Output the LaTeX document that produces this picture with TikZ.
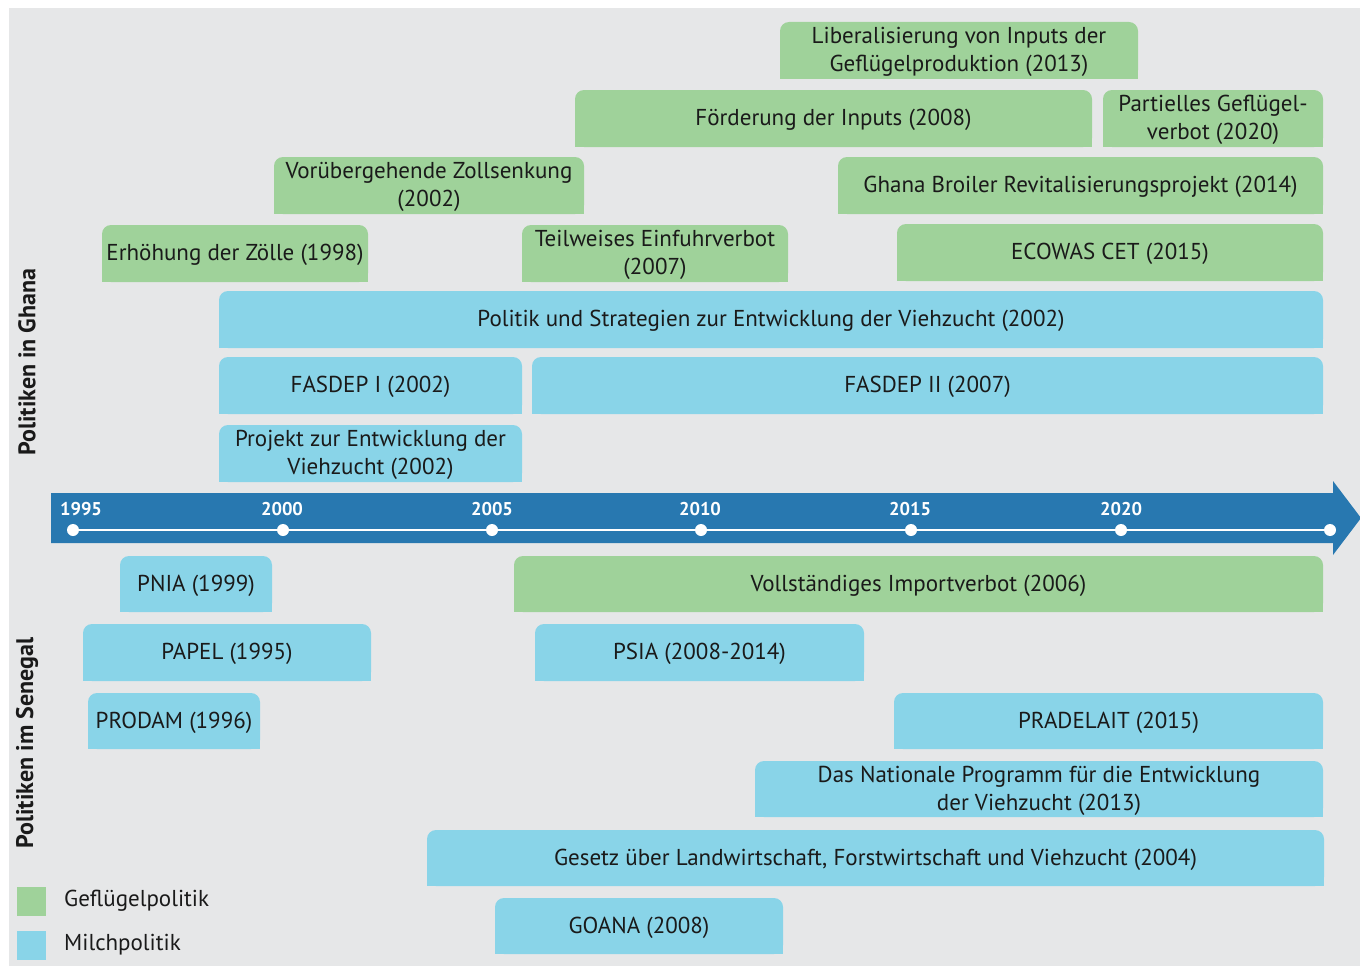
\documentclass[tikz,border=0pt]{standalone}
\usepackage{fontspec}
\setmainfont{PT Sans}
\definecolor{bgc}{HTML}{E6E7E8}
\definecolor{gr}{HTML}{9FD29A}
\definecolor{bl}{HTML}{89D4E8}
\definecolor{arr}{HTML}{2878B0}
\definecolor{ink}{HTML}{1A1A1A}
\tikzset{
  txt/.style={text=ink,font=\fontsize{23}{28}\selectfont,align=center,inner sep=0pt,yshift=-1.5pt},
  yr/.style={text=white,font=\bfseries\fontsize{18.5}{20}\selectfont,inner sep=0pt},
  side/.style={text=ink,font=\bfseries\fontsize{24}{28}\selectfont,rotate=90,inner sep=0pt},
  dot/.style={circle,fill=white,inner sep=0pt,minimum size=12pt},
  leg/.style={text=ink,font=\fontsize{23}{27}\selectfont,anchor=west,inner sep=0pt}
}
\newcommand\tbox[7]{%
  \fill[#6,rounded corners=9pt] (#2,-#3) rectangle (#4,-#5);
  \fill[#6] (#2,{-#3-15}) rectangle (#4,-#5);
  \node[txt] (#1) at ({(#2+#4)/2},{-(#3+#5)/2}) {#7};}
\begin{document}
\begin{tikzpicture}[x=1pt,y=1pt]
\useasboundingbox (0,0) rectangle (1360,-966);
\fill[white] (0,0) rectangle (1360,-966);
\fill[bgc] (9,-8) rectangle (1360,-966);
% Ghana
\tbox{lib}{780}{22}{1138}{79}{gr}{Liberalisierung von Inputs der\\Geflügelproduktion (2013)}
\tbox{foer}{575}{90}{1092}{147}{gr}{Förderung der Inputs (2008)}
\tbox{part}{1103}{90}{1323}{147}{gr}{Partielles Geflügel-\\verbot (2020)}
\tbox{zoll}{274}{157}{584}{214}{gr}{Vorübergehende Zollsenkung\\(2002)}
\tbox{broil}{838}{157}{1323}{214}{gr}{Ghana Broiler Revitalisierungsprojekt (2014)}
\tbox{erh}{102}{225}{368}{282}{gr}{Erhöhung der Zölle (1998)}
\tbox{teil}{522}{225}{788}{282}{gr}{Teilweises Einfuhrverbot\\(2007)}
\tbox{ecow}{897}{224}{1323}{281}{gr}{ECOWAS CET (2015)}
\tbox{pol}{219}{291}{1323}{348}{bl}{Politik und Strategien zur Entwicklung der Viehzucht (2002)}
\tbox{fas1}{219}{357}{522}{414}{bl}{FASDEP I (2002)}
\tbox{fas2}{532}{357}{1323}{414}{bl}{FASDEP II (2007)}
\tbox{proj}{219}{425}{522}{482}{bl}{Projekt zur Entwicklung der\\Viehzucht (2002)}
% timeline
\fill[arr] (51,-493) -- (1333,-493) -- (1333,-481) -- (1361,-518) -- (1333,-555) -- (1333,-543) -- (51,-543) -- cycle;
\node[dot] (d1) at (73,-530) {};
\node[dot] (d2) at (283,-530) {};
\node[dot] (d3) at (492,-530) {};
\node[dot] (d4) at (701,-530) {};
\node[dot] (d5) at (911,-530) {};
\node[dot] (d6) at (1121,-530) {};
\node[dot] (d7) at (1330,-530) {};
\draw[white,line width=2.5pt] (d1.center) -- (d7.center);
\node[yr] (y1) at (81,-509) {1995};
\node[yr] (y2) at (282,-509) {2000};
\node[yr] (y3) at (492,-509) {2005};
\node[yr] (y4) at (700,-509) {2010};
\node[yr] (y5) at (910,-509) {2015};
\node[yr] (y6) at (1121,-509) {2020};
% Senegal
\tbox{pnia}{120}{556}{272}{612}{bl}{PNIA (1999)}
\tbox{voll}{514}{556}{1323}{612}{gr}{Vollständiges Importverbot (2006)}
\tbox{papel}{83}{624}{371}{681}{bl}{PAPEL (1995)}
\tbox{psia}{535}{624}{864}{681}{bl}{PSIA (2008-2014)}
\tbox{prodam}{88}{693}{260}{749}{bl}{PRODAM (1996)}
\tbox{prad}{894}{693}{1323}{749}{bl}{PRADELAIT (2015)}
\tbox{nat}{755}{761}{1323}{817}{bl}{Das Nationale Programm für die Entwicklung\\der Viehzucht (2013)}
\tbox{ges}{427}{830}{1324}{886}{bl}{Gesetz über Landwirtschaft, Forstwirtschaft und Viehzucht (2004)}
\tbox{goana}{495}{898}{783}{954}{bl}{GOANA (2008)}
% side labels
\node[side] (gh) at (27,-362) {Politiken in Ghana};
\node[side] (sn) at (27,-743) {Politiken im Senegal};
% legend
\fill[gr] (17,-887) rectangle (46,-916);
\fill[bl] (17,-931) rectangle (46,-960);
\node[leg] (lg1) at (64,-901) {Geflügelpolitik};
\node[leg] (lg2) at (64,-945) {Milchpolitik};
\end{tikzpicture}
\end{document}
